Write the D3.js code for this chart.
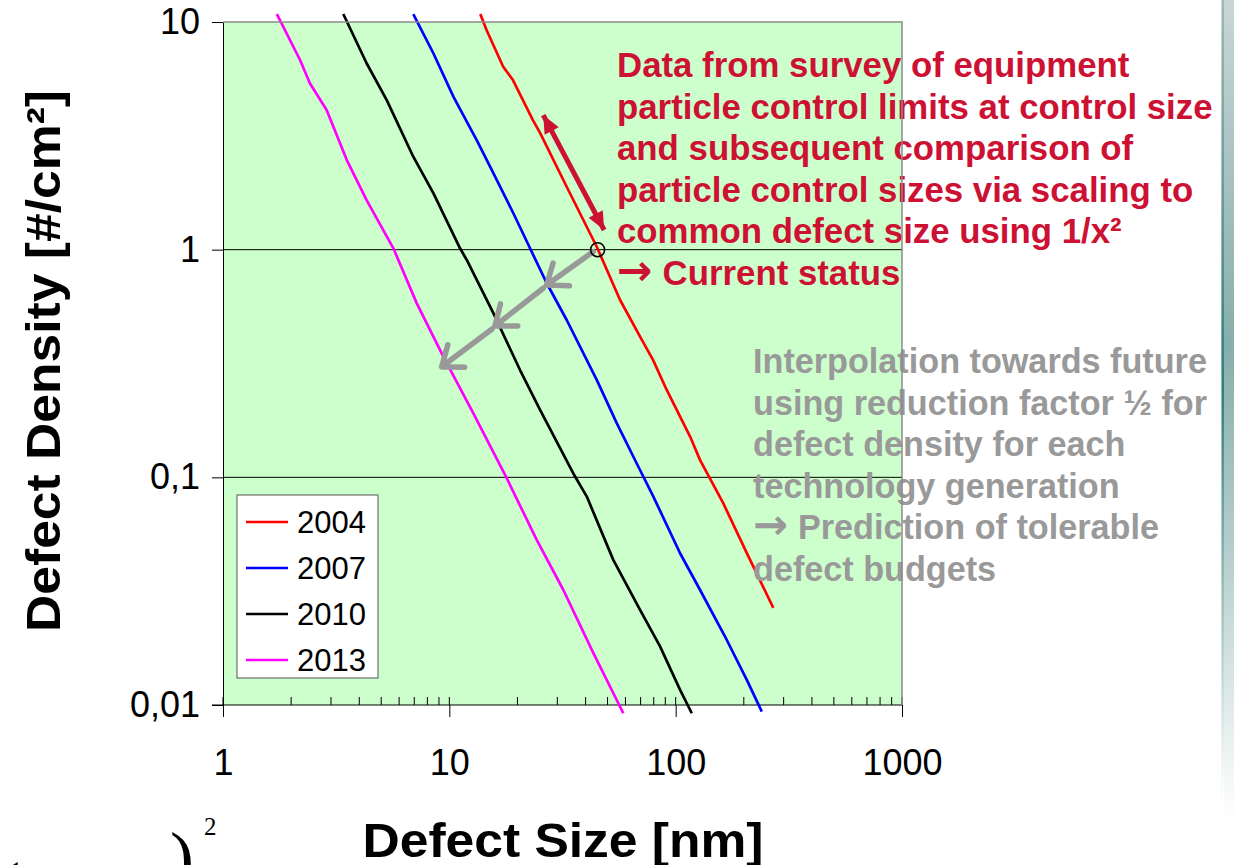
<!DOCTYPE html>
<meta charset="utf-8">
<script src="https://cdnjs.cloudflare.com/ajax/libs/d3/7.8.5/d3.min.js"></script>
<style>
    body {
        margin: 0;
        background: #fff;
    }

    text {
        font-family: "Liberation Sans", Arial, sans-serif;
    }

    path.series {
        fill: none;
        stroke-width: 2.7px;
        stroke-linejoin: round;
    }
</style>

<body>
    <script>

        // legend names and [defect size nm, defect density #/cm2]
        var years = ["2004", "2007", "2010", "2013"];

        var data2004 = [[13.7, 10.84], [14.6, 9.22], [17.3, 6.36], [19.1, 5.56], [23.4, 3.71], [25.2, 3.25],
        [33.0, 1.89], [44.8, 1.03], [56.8, 0.601], [69.6, 0.415], [79.4, 0.328], [91.3, 0.242],
        [115.8, 0.151], [128.2, 0.119], [162, 0.0772], [206, 0.0466], [270, 0.0267]];

        var data2007 = [[6.93, 10.84], [8.50, 7.29], [10.42, 4.70], [13.21, 3.03], [15.65, 2.17], [19.18, 1.445],
        [22.73, 1.014], [26.94, 0.712], [33.0, 0.491], [44.8, 0.268], [54.9, 0.173], [67.3, 0.115],
        [79.7, 0.0823], [104.6, 0.0464], [128.2, 0.0320], [168.2, 0.0193], [206.2, 0.0129], [240.2, 0.00935]];

        var data2010 = [[3.40, 10.84], [4.31, 6.59], [5.29, 4.54], [6.93, 2.56], [8.50, 1.77], [11.15, 1.014],
        [11.94, 0.901], [15.65, 0.526], [20.53, 0.296], [25.17, 0.198], [35.3, 0.104], [40.5, 0.0823],
        [53.0, 0.0434], [69.6, 0.0262], [85.3, 0.0181], [104.6, 0.01165], [117.8, 0.0092]];

        var data2013 = [[1.73, 10.84], [2.19, 6.81], [2.42, 5.38], [2.87, 4.11], [3.52, 2.48], [4.31, 1.65],
        [5.66, 1.014], [7.18, 0.581], [9.41, 0.339], [12.77, 0.191], [17.93, 0.0991], [24.33, 0.0531],
        [31.9, 0.0320], [43.3, 0.0169], [58.7, 0.0092]];

        var xTicks = [1, 10, 100, 1000];
        var xTickLabels = ["1", "10", "100", "1000"];
        var yTicks = [0.01, 0.1, 1, 10];
        var yTickLabels = ["0,01", "0,1", "1", "10"];
        var yGrid = [0.1, 1];

        var redNote = ["Data from survey of equipment",
            "particle control limits at control size",
            "and subsequent comparison of",
            "particle control sizes via scaling to",
            "common defect size using 1/x\u00b2",
            "\u2192 Current status"];

        var grayNote = ["Interpolation towards future",
            "using reduction factor \u00bd for",
            "defect density for each",
            "technology generation",
            "\u2192 Prediction of tolerable",
            "defect budgets"];

        // annotation anchors, in data units
        var statusPoint = [45.2, 1.0];
        var surveyArrow = [[26.0, 3.90], [48.3, 1.22]];
        var futureArrows = [[[43.2, 0.98], [26.9, 0.70]],
        [[26.0, 0.677], [15.9, 0.462]],
        [[15.4, 0.447], [9.26, 0.306]]];

        var lineColors = ["#ff0000", "#0000ff", "#000000", "#ff00ff"];
        var series = [data2004, data2007, data2010, data2013];

        var width = 1234,
            height = 865;

        var pLeft = 223, pRight = 902, pTop = 22, pBottom = 705;

        var x = d3.scaleLog().domain([1, 1000]).range([pLeft, pRight]);
        var y = d3.scaleLog().domain([0.01, 10]).range([pBottom, pTop]);

        var svg = d3.select("body").append("svg")
            .attr("width", width)
            .attr("height", height);

        // slide decoration at the right edge
        var defs = svg.append("defs");
        var grad = defs.append("linearGradient")
            .attr("id", "deco")
            .attr("x1", 0).attr("y1", 0).attr("x2", 0).attr("y2", 1);
        grad.append("stop").attr("offset", "0%").attr("stop-color", "#c9d6d6");
        grad.append("stop").attr("offset", "40%").attr("stop-color", "#86aeac");
        grad.append("stop").attr("offset", "65%").attr("stop-color", "#b9d0cf");
        grad.append("stop").attr("offset", "95%").attr("stop-color", "#ffffff");
        svg.append("rect")
            .attr("x", 1221).attr("y", 0)
            .attr("width", 13).attr("height", height)
            .style("fill", "url(#deco)");
        var grad2 = defs.append("linearGradient")
            .attr("id", "deco2")
            .attr("x1", 0).attr("y1", 0).attr("x2", 0).attr("y2", 1);
        grad2.append("stop").attr("offset", "0%").attr("stop-color", "#9fb8b8");
        grad2.append("stop").attr("offset", "45%").attr("stop-color", "#2f7f7b");
        grad2.append("stop").attr("offset", "92%").attr("stop-color", "#ffffff");
        svg.append("rect")
            .attr("x", 1222).attr("y", 0)
            .attr("width", 2).attr("height", height)
            .style("fill", "url(#deco2)");

        // plot background
        svg.append("rect")
            .attr("x", pLeft).attr("y", pTop)
            .attr("width", pRight - pLeft).attr("height", pBottom - pTop)
            .style("fill", "#ccffcc");

        // grid lines at 0.1 and 1
        svg.append("g").selectAll("line")
            .data(yGrid)
            .enter().append("line")
            .attr("x1", pLeft).attr("x2", pRight)
            .attr("y1", function (d) { return y(d); })
            .attr("y2", function (d) { return y(d); })
            .style("stroke", "#000")
            .style("stroke-width", 1);

        // y axis
        var yAxis = d3.axisLeft(y)
            .tickValues(yTicks)
            .tickFormat(function (d, i) { return yTickLabels[i]; })
            .tickSizeInner(11)
            .tickSizeOuter(0)
            .tickPadding(12);
        var gy = svg.append("g")
            .attr("transform", "translate(" + pLeft + ",0)")
            .call(yAxis);
        gy.select(".domain").style("stroke", "#000");
        gy.selectAll("text")
            .style("font-family", "Liberation Sans, Arial, sans-serif")
            .style("font-size", "36px")
            .style("fill", "#000");

        // x axis, major ticks cross the line, minor ticks point up
        var xAxis = d3.axisBottom(x)
            .tickValues(xTicks)
            .tickFormat(function (d, i) { return xTickLabels[i]; })
            .tickSizeInner(12)
            .tickSizeOuter(0)
            .tickPadding(32);
        var gx = svg.append("g")
            .attr("transform", "translate(0," + pBottom + ")")
            .call(xAxis);
        gx.select(".domain").remove();
        gx.selectAll("text")
            .style("font-family", "Liberation Sans, Arial, sans-serif")
            .style("font-size", "36px")
            .style("fill", "#000");

        svg.append("g").selectAll("line")
            .data(x.ticks())
            .enter().append("line")
            .attr("x1", function (d) { return x(d); })
            .attr("x2", function (d) { return x(d); })
            .attr("y1", pBottom)
            .attr("y2", pBottom - 8)
            .style("stroke", "#000")
            .style("stroke-width", 1);

        svg.append("line")
            .attr("x1", pLeft - 11).attr("x2", pRight)
            .attr("y1", pBottom).attr("y2", pBottom)
            .style("stroke", "#000")
            .style("stroke-width", 1.2);

        // the curves
        var line = d3.line()
            .x(function (d) { return x(d[0]); })
            .y(function (d) { return y(d[1]); });

        svg.append("g").selectAll("path")
            .data(series)
            .enter().append("path")
            .attr("class", "series")
            .attr("d", line)
            .style("stroke", function (d, i) { return lineColors[i]; });

        // legend
        var legend = svg.append("g");
        legend.append("rect")
            .attr("x", 237).attr("y", 495)
            .attr("width", 141).attr("height", 183)
            .style("fill", "#fff")
            .style("stroke", "#555")
            .style("stroke-width", 1);
        var item = legend.selectAll("g")
            .data(years)
            .enter().append("g")
            .attr("transform", function (d, i) { return "translate(0," + (522 + i * 46) + ")"; });
        item.append("line")
            .attr("x1", 246).attr("x2", 288)
            .style("stroke", function (d, i) { return lineColors[i]; })
            .style("stroke-width", 2.7);
        item.append("text")
            .attr("x", 297)
            .attr("dy", "0.36em")
            .style("font-size", "31px")
            .text(function (d) { return d; });

        // survey arrow, filled heads on both ends
        function headPoints(tip, from, len, half) {
            var dx = tip[0] - from[0], dy = tip[1] - from[1];
            var l = Math.sqrt(dx * dx + dy * dy);
            var ux = dx / l, uy = dy / l;
            var bx = tip[0] - ux * len, by = tip[1] - uy * len;
            return [[tip[0], tip[1]], [bx - uy * half, by + ux * half], [bx + uy * half, by - ux * half]];
        }

        var sa = [x(surveyArrow[0][0]), y(surveyArrow[0][1])];
        var sb = [x(surveyArrow[1][0]), y(surveyArrow[1][1])];
        svg.append("line")
            .attr("x1", sa[0]).attr("y1", sa[1])
            .attr("x2", sb[0]).attr("y2", sb[1])
            .style("stroke", "#cc1133")
            .style("stroke-width", 5);
        [[sa, sb], [sb, sa]].forEach(function (p) {
            var pts = headPoints(p[0], p[1], 18, 8);
            svg.append("path")
                .attr("d", "M" + pts.join("L") + "Z")
                .style("fill", "#cc1133");
        });

        // interpolation arrows, open heads
        futureArrows.forEach(function (a) {
            var p0 = [x(a[0][0]), y(a[0][1])];
            var p1 = [x(a[1][0]), y(a[1][1])];
            var pts = headPoints(p1, p0, 18, 14);
            svg.append("path")
                .attr("d", "M" + p0 + "L" + p1 + "M" + pts[1] + "L" + p1 + "L" + pts[2])
                .style("fill", "none")
                .style("stroke", "#999")
                .style("stroke-width", 5.5)
                .style("stroke-linecap", "round")
                .style("stroke-linejoin", "round");
        });

        // current status marker
        svg.append("circle")
            .attr("cx", x(statusPoint[0]))
            .attr("cy", y(statusPoint[1]))
            .attr("r", 7)
            .style("fill", "none")
            .style("stroke", "#000")
            .style("stroke-width", 1.5);

        // notes; a leading arrow gets its own wider glyph
        function writeNote(sel) {
            sel.each(function (d) {
                var t = d3.select(this);
                if (d.charAt(0) === "\u2192") {
                    t.append("tspan")
                        .style("font-family", "DejaVu Sans, sans-serif")
                        .style("font-size", "1.22em")
                        .text("\u2192");
                    t.append("tspan")
                        .attr("dx", 10)
                        .text(d.slice(2));
                } else {
                    t.text(d);
                }
            });
        }

        svg.append("g").selectAll("text")
            .data(redNote)
            .enter().append("text")
            .attr("x", 617)
            .attr("y", function (d, i) { return 77 + i * 41.5; })
            .style("font-size", "34.8px")
            .style("font-weight", "bold")
            .style("fill", "#cc1133")
            .call(writeNote);

        svg.append("g").selectAll("text")
            .data(grayNote)
            .enter().append("text")
            .attr("x", 753)
            .attr("y", function (d, i) { return 373 + i * 41.6; })
            .style("font-size", "34.2px")
            .style("font-weight", "bold")
            .style("fill", "#999")
            .call(writeNote);

        // right edge of the frame sits over the notes
        svg.append("path")
            .attr("d", "M" + pLeft + "," + pTop + "H" + pRight + "V" + pBottom)
            .style("fill", "none")
            .style("stroke", "#8c8c8c")
            .style("stroke-width", 1.5);

        // axis titles
        svg.append("text")
            .attr("transform", "translate(60,361) rotate(-90)")
            .attr("text-anchor", "middle")
            .attr("textLength", 542)
            .attr("lengthAdjust", "spacingAndGlyphs")
            .style("font-size", "48px")
            .style("font-weight", "bold")
            .text("Defect Density [#/cm\u00b2]");

        svg.append("text")
            .attr("x", 563)
            .attr("y", 857)
            .attr("text-anchor", "middle")
            .attr("textLength", 401)
            .attr("lengthAdjust", "spacingAndGlyphs")
            .style("font-size", "48px")
            .style("font-weight", "bold")
            .text("Defect Size [nm]");

        // formula fragment cut off at the bottom of the slide
        svg.append("text")
            .attr("x", 170).attr("y", 882)
            .style("font-family", "Liberation Serif, serif")
            .style("font-size", "72px")
            .text(")");
        svg.append("text")
            .attr("x", 204).attr("y", 835)
            .style("font-family", "Liberation Serif, serif")
            .style("font-size", "25px")
            .text("2");
        svg.append("text")
            .attr("x", -4).attr("y", 912)
            .style("font-family", "Liberation Serif, serif")
            .style("font-size", "72px")
            .text("(");

    </script>
</body>

</html>
